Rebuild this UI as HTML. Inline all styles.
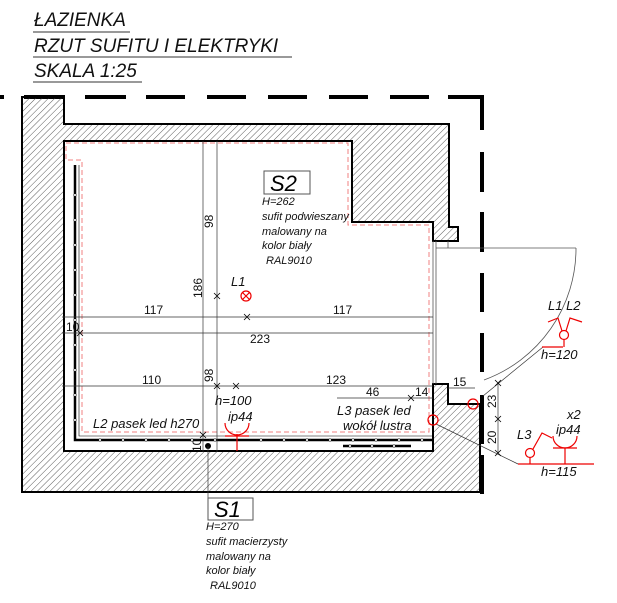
<!DOCTYPE html>
<html><head><meta charset="utf-8"><style>
html,body{margin:0;padding:0;background:#fff;}
svg{display:block;font-family:"Liberation Sans",sans-serif;}
text{font-style:italic;}
</style></head><body>
<svg width="617" height="603" viewBox="0 0 617 603" xmlns="http://www.w3.org/2000/svg">
<defs>
<pattern id="h" width="4.5" height="4.5" patternUnits="userSpaceOnUse" patternTransform="rotate(45)">
<line x1="0" y1="0" x2="0" y2="4.5" stroke="#333" stroke-width="0.8"/>
</pattern>
</defs>
<g font-size="19" fill="#111">
<text x="34" y="26">ŁAZIENKA</text>
<text x="34" y="52">RZUT SUFITU I ELEKTRYKI</text>
<text x="34" y="77">SKALA 1:25</text>
</g>
<g stroke="#333" stroke-width="1">
<line x1="33" y1="32" x2="130" y2="32"/>
<line x1="33" y1="57" x2="292" y2="57"/>
<line x1="33" y1="82" x2="142" y2="82"/>
</g>
<g stroke="#000" stroke-width="4">
<path d="M0,97 H4 M24,97 H65 M85,97 H126 M146,97 H185 M207,97 H246 M268,97 H307 M329,97 H368 M390,97 H429 M448,97 H484"/>
<path d="M482,97 V130 M482,152 V192 M482,212 V252 M482,273 V312 M482,333 V372 M482,395 V444 M482,455 V494"/>
</g>
<path d="M22,97 L64,97 L64,124 L449,124 L449,227 L458,227 L458,241 L433,241 L433,222 L352,222 L352,141 L64,141 L64,451 L433,451 L433,384 L448,384 L448,404 L480,404 L480,492 L22,492 Z" fill="url(#h)" stroke="#000" stroke-width="2"/>
<g stroke="#555" stroke-width="0.8" fill="none">
<line x1="433" y1="241" x2="433" y2="384"/>
<line x1="436" y1="241" x2="436" y2="384"/>
<line x1="436" y1="248" x2="576" y2="248"/>
<line x1="448" y1="241" x2="448" y2="248"/>
<path d="M576,248 A140,140 0 0 1 484,380"/>
</g>
<path d="M66,143 L348,143 L348,225 L429,225 L429,432 L82,432 L82,160 L66,160 Z" fill="none" stroke="#f08080" stroke-width="1" stroke-dasharray="5 3"/>
<g stroke="#000" fill="none">
<path d="M75,165 L75,440 L433,440" stroke-width="2.5"/>
<path d="M79,165 L79,436 L433,436" stroke-width="0.6"/>
<line x1="343" y1="446" x2="411" y2="446" stroke-width="2.5"/>
</g>
<g fill="#fff" stroke="#000" stroke-width="0.5">
<circle cx="75" cy="195" r="1.3"/><circle cx="75" cy="220" r="1.3"/><circle cx="75" cy="245" r="1.3"/><circle cx="75" cy="270" r="1.3"/><circle cx="75" cy="295" r="1.3"/><circle cx="75" cy="320" r="1.3"/><circle cx="75" cy="345" r="1.3"/><circle cx="75" cy="370" r="1.3"/><circle cx="75" cy="395" r="1.3"/><circle cx="75" cy="420" r="1.3"/>
<circle cx="100" cy="440" r="1.3"/><circle cx="123" cy="440" r="1.3"/><circle cx="146" cy="440" r="1.3"/><circle cx="169" cy="440" r="1.3"/><circle cx="192" cy="440" r="1.3"/><circle cx="215" cy="440" r="1.3"/><circle cx="261" cy="440" r="1.3"/><circle cx="284" cy="440" r="1.3"/><circle cx="307" cy="440" r="1.3"/><circle cx="330" cy="440" r="1.3"/><circle cx="353" cy="440" r="1.3"/><circle cx="376" cy="440" r="1.3"/><circle cx="399" cy="440" r="1.3"/><circle cx="422" cy="440" r="1.3"/>
<circle cx="350" cy="446" r="1.3"/><circle cx="372" cy="446" r="1.3"/><circle cx="394" cy="446" r="1.3"/>
</g>
<circle cx="208" cy="446" r="3" fill="#000"/>
<g stroke="#333" stroke-width="0.7" fill="none">
<line x1="203" y1="141" x2="203" y2="452"/>
<path d="M208,446 L208,498"/>
<line x1="217" y1="141" x2="217" y2="452"/>
<line x1="62" y1="317" x2="433" y2="317"/>
<line x1="62" y1="333" x2="433" y2="333"/>
<line x1="62" y1="386" x2="433" y2="386"/>
<line x1="337" y1="398" x2="433" y2="398"/>
<line x1="448" y1="388" x2="475" y2="388"/>
<line x1="498" y1="383" x2="498" y2="453"/>
<line x1="483" y1="396" x2="543" y2="347"/>
<line x1="436" y1="424" x2="518" y2="464"/>
</g>
<g stroke="#000" stroke-width="0.8">
<path d="M214,293 l6,6 M220,293 l-6,6"/><path d="M214,383 l6,6 M220,383 l-6,6"/>
<path d="M244,314 l6,6 M250,314 l-6,6"/><path d="M77,330 l6,6 M83,330 l-6,6"/>
<path d="M233,383 l6,6 M239,383 l-6,6"/><path d="M408,395 l6,6 M414,395 l-6,6"/>
<path d="M495,380 l6,6 M501,380 l-6,6"/><path d="M495,416 l6,6 M501,416 l-6,6"/><path d="M495,450 l6,6 M501,450 l-6,6"/>
<path d="M200,432 l6,6 M206,432 l-6,6"/>
</g>
<g font-size="12" fill="#111">
<text x="144" y="314" style="font-style:normal">117</text>
<text x="333" y="314" style="font-style:normal">117</text>
<text x="66" y="331" style="font-style:normal">10</text>
<text x="250" y="343" style="font-style:normal">223</text>
<text x="142" y="384" style="font-style:normal">110</text>
<text x="326" y="384" style="font-style:normal">123</text>
<text x="366" y="396" style="font-style:normal">46</text>
<text x="415" y="396" style="font-style:normal">14</text>
<text x="453" y="386" style="font-style:normal">15</text>
<text transform="translate(213,228) rotate(-90)" style="font-style:normal">98</text>
<text transform="translate(202,298) rotate(-90)" style="font-style:normal">186</text>
<text transform="translate(213,382) rotate(-90)" style="font-style:normal">98</text>
<text transform="translate(201,452) rotate(-90)" style="font-style:normal">10</text>
<text transform="translate(496,408) rotate(-90)" style="font-style:normal">23</text>
<text transform="translate(496,444) rotate(-90)" style="font-style:normal">20</text>
</g>
<rect x="264" y="171" width="46" height="23" fill="#fff" stroke="#555" stroke-width="1"/>
<text x="270" y="191" font-size="22">S2</text>
<rect x="208" y="498" width="45" height="22" fill="#fff" stroke="#555" stroke-width="1"/>
<text x="214" y="517" font-size="22">S1</text>
<g font-size="11" fill="#111">
<text x="262" y="205">H=262</text>
<text x="262" y="220">sufit podwieszany</text>
<text x="262" y="235">malowany na</text>
<text x="262" y="249">kolor biały</text>
<text x="266" y="264">RAL9010</text>
<text x="206" y="530">H=270</text>
<text x="206" y="545">sufit macierzysty</text>
<text x="206" y="560">malowany na</text>
<text x="206" y="574">kolor biały</text>
<text x="210" y="589">RAL9010</text>
</g>
<g font-size="13" fill="#111">
<text x="231" y="286">L1</text>
<text x="215" y="405">h=100</text>
<text x="228" y="421">ip44</text>
<text x="93" y="428">L2 pasek led h270</text>
<text x="337" y="415">L3 pasek led</text>
<text x="343" y="430">wokół lustra</text>
<text x="548" y="310">L1 L2</text>
<text x="541" y="359">h=120</text>
<text x="567" y="419">x2</text>
<text x="556" y="434">ip44</text>
<text x="517" y="439">L3</text>
<text x="541" y="476">h=115</text>
</g>
<g stroke="#e00" stroke-width="1.2" fill="none">
<circle cx="246" cy="296" r="5"/>
<path d="M242.5,292.5 l7,7 M249.5,292.5 l-7,7"/>
<path d="M225,423 A12,12 0 0 0 249,423"/>
<line x1="225" y1="436" x2="249" y2="436"/>
<line x1="237" y1="434" x2="237" y2="451"/>
<circle cx="473" cy="404" r="5"/>
<circle cx="433" cy="420" r="5"/>
<circle cx="564" cy="335" r="4.5"/>
<line x1="564" y1="340" x2="564" y2="347"/>
<line x1="542" y1="347" x2="563" y2="347"/>
<path d="M562,331 L558,318 L548,322"/>
<path d="M566,331 L570,318 L582,322"/>
<line x1="518" y1="464" x2="594" y2="464"/>
<circle cx="530" cy="453" r="4.5"/>
<line x1="530" y1="458" x2="530" y2="464"/>
<path d="M533,449 L542,433 L552,438"/>
<path d="M553,436 A12,12 0 0 0 577,436"/>
<line x1="553" y1="448" x2="577" y2="448"/>
<line x1="565" y1="448" x2="565" y2="464"/>
</g>
</svg>
</body></html>
